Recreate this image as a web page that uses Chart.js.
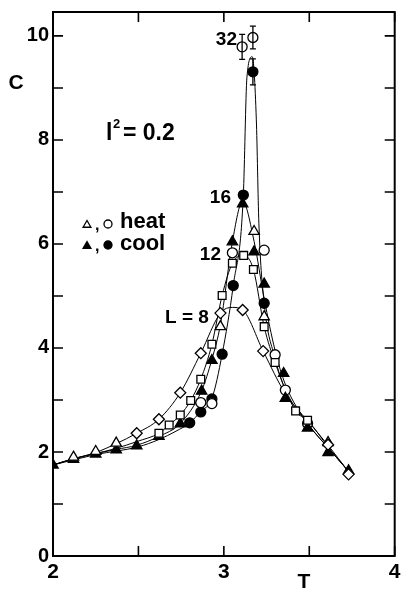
<!DOCTYPE html>
<html>
<head>
<meta charset="utf-8">
<script src="https://cdn.jsdelivr.net/npm/chart.js@4.4.0/dist/chart.umd.min.js"></script>
<style>
html, body { margin: 0; padding: 0; background: #fff; }
</style>
</head>
<body>
<canvas id="myChart" width="402" height="592"></canvas>
<script>
// L = 8 (diamonds)
const t8 = [2.49, 2.62, 2.745, 2.865, 2.98, 3.11, 3.23, 3.61, 3.73];
const c8 = [2.36, 2.63, 3.14, 3.90, 4.67, 4.73, 3.94, 2.14, 1.57];
// L = 12 (squares)
const t12 = [2.62, 2.68, 2.745, 2.806, 2.865, 2.93, 2.99, 3.05, 3.116, 3.173, 3.236, 3.30, 3.42, 3.49];
const c12 = [2.36, 2.52, 2.71, 2.99, 3.40, 4.07, 5.01, 5.63, 5.78, 5.51, 4.41, 3.72, 2.79, 2.61];
// L = 16 (triangles)
const t16heat = [2.12, 2.25, 2.37, 2.98, 3.177, 3.236, 3.61];
const c16heat = [1.90, 2.01, 2.17, 4.41, 6.24, 4.60, 2.18];
const t16cool = [2.0, 2.12, 2.25, 2.37, 2.49, 2.62, 2.745, 2.87, 2.93, 3.05, 3.11, 3.177, 3.236, 3.35, 3.36, 3.49, 3.61, 3.73];
const c16cool = [1.75, 1.86, 1.96, 2.04, 2.12, 2.30, 2.54, 3.17, 3.76, 6.04, 6.77, 5.85, 5.23, 3.51, 3.03, 2.46, 1.99, 1.64];
// L = 32 (circles)
const t32heat = [2.865, 2.93, 3.05, 3.107, 3.17, 3.236, 3.30, 3.36, 3.49];
const c32heat = [2.95, 2.93, 5.83, 9.79, 9.97, 5.88, 3.87, 3.19, 2.55];
const t32cool = [2.80, 2.865, 2.93, 2.99, 3.055, 3.114, 3.17, 3.236];
const c32cool = [2.56, 2.77, 3.02, 3.88, 5.20, 6.94, 9.31, 4.86];
// error bars
const errT = [3.107, 3.17, 3.17];
const errC = [9.79, 9.97, 9.31];
const errD = [0.24, 0.22, 0.25];

// fitted curves
const line8T = [2.0, 2.12, 2.25, 2.37, 2.49, 2.62, 2.745, 2.865, 2.98, 3.05, 3.11, 3.23, 3.36, 3.49, 3.61, 3.73];
const line8C = [1.75, 1.87, 1.99, 2.16, 2.36, 2.63, 3.14, 3.90, 4.67, 4.78, 4.73, 3.94, 3.12, 2.60, 2.13, 1.62];
const line12T = [2.0, 2.12, 2.25, 2.37, 2.49, 2.62, 2.68, 2.745, 2.806, 2.865, 2.93, 2.99, 3.05, 3.116, 3.173, 3.236, 3.30, 3.42, 3.49, 3.61, 3.73];
const line12C = [1.75, 1.87, 1.97, 2.07, 2.20, 2.36, 2.52, 2.71, 2.99, 3.40, 4.07, 5.01, 5.63, 5.78, 5.51, 4.41, 3.72, 2.79, 2.61, 2.10, 1.62];
const line16T = [2.0, 2.12, 2.25, 2.37, 2.49, 2.62, 2.745, 2.87, 2.93, 2.98, 3.05, 3.11, 3.177, 3.236, 3.30, 3.36, 3.49, 3.61, 3.73];
const line16C = [1.75, 1.87, 1.97, 2.05, 2.13, 2.30, 2.55, 3.18, 3.78, 4.45, 6.04, 6.82, 6.05, 4.95, 3.95, 3.30, 2.55, 2.08, 1.63];
const line32T = [2.0, 2.25, 2.5, 2.62, 2.72, 2.80, 2.865, 2.93, 2.99, 3.055, 3.114, 3.135, 3.166, 3.19, 3.205, 3.236, 3.30, 3.36, 3.49, 3.61, 3.73];
const line32C = [1.75, 1.95, 2.10, 2.24, 2.40, 2.56, 2.78, 3.03, 3.88, 5.20, 6.94, 9.20, 9.60, 8.40, 6.40, 4.86, 3.80, 3.20, 2.55, 2.08, 1.63];

const xTicks = [2, 2.5, 3, 3.5, 4];
const xLabels = [2, 3, 4];
const yTicks = [1, 2, 3, 4, 5, 6, 7, 8, 9, 10];
const yLabels = [0, 2, 4, 6, 8, 10];

const pts = (ts, cs) => ts.map((t, i) => ({ x: t, y: cs[i] }));

function curve(ts, cs) {
    return {
        data: pts(ts, cs),
        showLine: true,
        borderColor: "#000",
        borderWidth: 1,
        pointRadius: 0,
        cubicInterpolationMode: "monotone",
        order: 10,
    };
}

function marks(ts, cs, style, r, filled) {
    return {
        data: pts(ts, cs),
        showLine: false,
        pointStyle: style,
        pointRadius: r,
        pointBorderWidth: 1.3,
        pointBorderColor: "#000",
        pointBackgroundColor: filled ? "#000" : "#fff",
        order: 0,
    };
}

const font = "'Liberation Sans', Arial, sans-serif";

const deco = {
    id: "deco",
    beforeDatasetsDraw(chart) {
        const { ctx, chartArea: a, scales: { x, y } } = chart;
        ctx.save();
        ctx.strokeStyle = "#000";
        ctx.lineWidth = 2;
        ctx.strokeRect(a.left, a.top, a.right - a.left, a.bottom - a.top);
        ctx.lineWidth = 1.6;
        ctx.beginPath();
        xTicks.forEach(v => {
            const px = x.getPixelForValue(v);
            ctx.moveTo(px, a.bottom); ctx.lineTo(px, a.bottom - 10);
            ctx.moveTo(px, a.top); ctx.lineTo(px, a.top + 10);
        });
        yTicks.forEach(v => {
            const py = y.getPixelForValue(v);
            ctx.moveTo(a.left, py); ctx.lineTo(a.left + 10, py);
            ctx.moveTo(a.right, py); ctx.lineTo(a.right - 10, py);
        });
        ctx.stroke();
        ctx.restore();
    },
    afterDatasetsDraw(chart) {
        const { ctx, scales: { x, y } } = chart;
        ctx.save();
        ctx.strokeStyle = "#000";
        ctx.lineWidth = 1.3;
        ctx.beginPath();
        errT.forEach((t, i) => {
            const px = x.getPixelForValue(t);
            const top = y.getPixelForValue(errC[i] + errD[i]);
            const bot = y.getPixelForValue(errC[i] - errD[i]);
            ctx.moveTo(px, top); ctx.lineTo(px, bot);
            ctx.moveTo(px - 3, top); ctx.lineTo(px + 3, top);
            ctx.moveTo(px - 3, bot); ctx.lineTo(px + 3, bot);
        });
        ctx.stroke();
        ctx.restore();
    },
    afterDraw(chart) {
        const { ctx, chartArea: a, scales: { x, y } } = chart;
        ctx.save();
        ctx.fillStyle = "#000";
        ctx.textBaseline = "middle";

        // tick labels
        ctx.font = "bold 20px " + font;
        ctx.textAlign = "right";
        yLabels.forEach(v => ctx.fillText(String(v), a.left - 4, y.getPixelForValue(v)));
        ctx.textAlign = "center";
        ctx.font = "bold 21px " + font;
        xLabels.forEach(v => ctx.fillText(String(v), x.getPixelForValue(v), a.bottom + 16));

        // axis titles
        ctx.font = "bold 21px " + font;
        ctx.fillText("C", 16, 83);
        ctx.fillText("T", 304, 582);

        // curve labels
        ctx.font = "bold 19px " + font;
        ctx.textAlign = "right";
        ctx.fillText("32", 237, 40);
        ctx.fillText("16", 231, 198);
        ctx.fillText("12", 221, 255);
        ctx.textAlign = "left";
        ctx.fillText("L = 8", 165, 318);

        // l^2 = 0.2
        ctx.font = "bold 23px " + font;
        ctx.fillText("l", 106, 134);
        ctx.font = "bold 13px " + font;
        ctx.fillText("2", 113, 124);
        ctx.font = "bold 23px " + font;
        ctx.fillText("= 0.2", 123, 134);

        // legend
        const sym = (style, px, py, r, filled) => {
            ctx.fillStyle = filled ? "#000" : "#fff";
            ctx.strokeStyle = "#000";
            ctx.lineWidth = 1.3;
            Chart.helpers.drawPoint(ctx, { pointStyle: style, radius: r, borderWidth: 1.3, rotation: 0 }, px, py);
            ctx.fillStyle = "#000";
        };
        sym("triangle", 87, 225, 4.5, false);
        sym("circle", 108, 224, 4, false);
        sym("triangle", 87, 246, 4.5, true);
        sym("circle", 108, 245, 4, true);
        ctx.font = "bold 16px " + font;
        ctx.fillText(",", 95, 226);
        ctx.fillText(",", 95, 247);
        ctx.font = "bold 22px " + font;
        ctx.fillText("heat", 120, 222);
        ctx.fillText("cool", 120, 244);
        ctx.restore();
    },
};

const config = {
    type: "scatter",
    data: {
        datasets: [
            curve(line8T, line8C),
            curve(line12T, line12C),
            curve(line16T, line16C),
            curve(line32T, line32C),
            marks(t8, c8, "rectRot", 5.5, false),
            marks(t12, c12, "rect", 5.5, false),
            marks(t16heat, c16heat, "triangle", 6, false),
            marks(t16cool, c16cool, "triangle", 6, true),
            marks(t32heat, c32heat, "circle", 5, false),
            marks(t32cool, c32cool, "circle", 5, true),
        ],
    },
    options: {
        responsive: false,
        animation: false,
        layout: { padding: { top: 12, right: 2, left: 0, bottom: 0 } },
        plugins: { legend: { display: false }, tooltip: { enabled: false } },
        scales: {
            x: {
                type: "linear", min: 2, max: 4,
                grid: { display: false }, border: { display: false },
                ticks: { display: false },
                afterFit(s) { s.height = 36; },
            },
            y: {
                type: "linear", min: 0, max: 10.46,
                grid: { display: false }, border: { display: false },
                ticks: { display: false },
                afterFit(s) { s.width = 53; },
            },
        },
    },
    plugins: [deco],
};

new Chart(document.getElementById("myChart"), config);
</script>
</body>
</html>
